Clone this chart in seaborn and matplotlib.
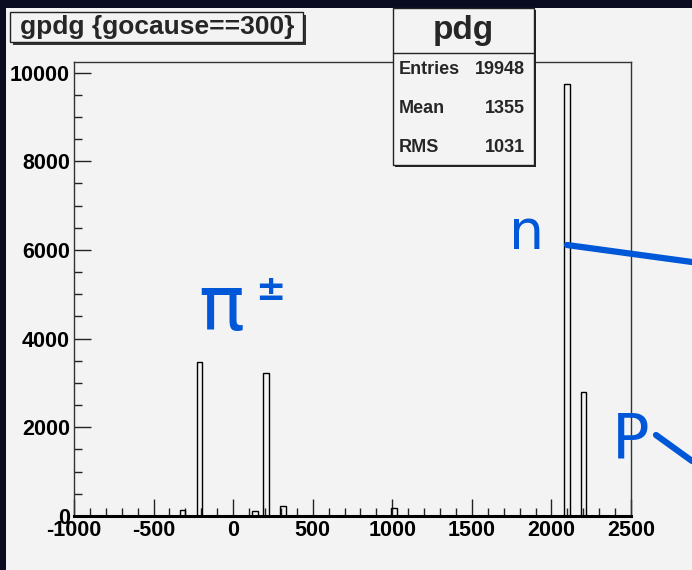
import numpy as np
import pandas as pd
import matplotlib
matplotlib.use("Agg")
import matplotlib.pyplot as plt
import seaborn as sns
from matplotlib.patches import Rectangle
from matplotlib.ticker import MultipleLocator

# ---- data ----
pdg_codes = [-321, -211, 130, 211, 321, 1000, 2112, 2212]
pdg_counts = [128, 3472, 120, 3230, 226, 181, 9750, 2792]
x_min, x_max, n_bins = -1000, 2500, 100
title_text = "gpdg {gocause==300}"
stats_name = "pdg"
stats_labels = ["Entries", "Mean", "RMS"]
stats_values = ["19948", "1355", "1031"]

df = pd.DataFrame({"pdg": pdg_codes, "count": pdg_counts})

sns.set_style("ticks")
plt.rcParams["axes.unicode_minus"] = False

W, H = 692, 570
fig = plt.figure(figsize=(W / 100, H / 100), dpi=100)
fig.patch.set_facecolor("#0a0d22")

def fx(px):
    return px / W

def fy(py):
    return 1 - py / H

# light panel
fig.patches.append(Rectangle((fx(6), 0), 1 - fx(6), fy(8), transform=fig.transFigure,
                             facecolor="#f3f3f3", edgecolor="none", zorder=-5))

ax = fig.add_axes([fx(74), fy(516), fx(631) - fx(74), fy(62) - fy(516)])
ax.set_facecolor("#f3f3f3")
ax.set_zorder(1)

sns.histplot(data=df, x="pdg", weights="count", bins=n_bins, binrange=(x_min, x_max),
             fill=False, element="bars", color="black", linewidth=1.0, ax=ax)

ax.set_xlim(x_min, x_max)
ax.set_ylim(0, 9750 * 1.05)
ax.set_xlabel("")
ax.set_ylabel("")

ax.xaxis.set_major_locator(MultipleLocator(500))
ax.xaxis.set_minor_locator(MultipleLocator(100))
ax.yaxis.set_major_locator(MultipleLocator(2000))
ax.yaxis.set_minor_locator(MultipleLocator(500))
ax.tick_params(axis="both", which="major", direction="in", length=12, width=1, color="#222222")
ax.tick_params(axis="both", which="minor", direction="in", length=6, width=1, color="#222222")
ax.tick_params(axis="x", which="both", top=False)
ax.tick_params(axis="y", which="both", right=False)
ax.tick_params(axis="x", pad=3)
ax.tick_params(axis="y", pad=3)

for lab in ax.get_xticklabels() + ax.get_yticklabels():
    lab.set_fontfamily("Liberation Sans")
    lab.set_fontweight("bold")
    lab.set_fontsize(15.5)
    lab.set_color("black")

for s in ["top", "right", "left"]:
    ax.spines[s].set_visible(True)
    ax.spines[s].set_color("#333333")
    ax.spines[s].set_linewidth(1.0)
ax.spines["bottom"].set_color("black")
ax.spines["bottom"].set_linewidth(2.2)

# title box with shadow
fig.patches.append(Rectangle((fx(13), fy(45)), fx(303) - fx(10), fy(12) - fy(42),
                             transform=fig.transFigure, facecolor="#333333",
                             edgecolor="none", zorder=5))
fig.patches.append(Rectangle((fx(10), fy(42)), fx(303) - fx(10), fy(12) - fy(42),
                             transform=fig.transFigure, facecolor="#f3f3f3",
                             edgecolor="#222222", linewidth=1, zorder=6))
fig.text(fx(157), fy(27), title_text, ha="center", va="center", fontsize=19,
         fontweight="bold", family="Liberation Sans", zorder=7)

# stats box with shadow
bx0, bx1, by0, by1 = 393, 534, 8, 165
fig.patches.append(Rectangle((fx(bx0 + 2), fy(by1 + 2)), fx(bx1) - fx(bx0), fy(by0) - fy(by1),
                             transform=fig.transFigure, facecolor="#222222",
                             edgecolor="none", zorder=5))
fig.patches.append(Rectangle((fx(bx0), fy(by1)), fx(bx1) - fx(bx0), fy(by0) - fy(by1),
                             transform=fig.transFigure, facecolor="#f3f3f3",
                             edgecolor="#222222", linewidth=1, zorder=6))
fig.lines.append(plt.Line2D([fx(bx0), fx(bx1)], [fy(53), fy(53)], transform=fig.transFigure,
                            color="#222222", linewidth=1, zorder=7))
fig.text(fx((bx0 + bx1) / 2), fy(30), stats_name, ha="center", va="center", fontsize=24,
         fontweight="bold", family="Liberation Sans", zorder=7)
for i, (lab, val) in enumerate(zip(stats_labels, stats_values)):
    yy = fy(69 + i * 39.5)
    fig.text(fx(399), yy, lab, ha="left", va="center", fontsize=13,
             fontweight="bold", family="Liberation Sans", zorder=7)
    fig.text(fx(525), yy, val, ha="right", va="center", fontsize=13,
             fontweight="bold", family="Liberation Sans", zorder=7)

# blue annotations
blue = "#0057d8"
fig.text(fx(527), fy(234), "n", ha="center", va="center", fontsize=40, color=blue,
         family="DejaVu Sans", zorder=8)
fig.text(fx(221), fy(309), "π", ha="center", va="center", fontsize=55, color=blue,
         family="DejaVu Sans", zorder=8)
fig.text(fx(270), fy(290), "±", ha="center", va="center", fontsize=26, color=blue,
         family="DejaVu Sans", fontweight="bold", zorder=8)
fig.text(fx(631), fy(440), "P", ha="center", va="center", fontsize=45, color=blue,
         family="DejaVu Sans", zorder=8)
fig.lines.append(plt.Line2D([fx(567), fx(692)], [fy(245), fy(262)], transform=fig.transFigure,
                            color=blue, linewidth=4.5, zorder=8))
fig.lines.append(plt.Line2D([fx(656), fx(692)], [fy(435), fy(461)], transform=fig.transFigure,
                            color=blue, linewidth=4.5, zorder=8))

fig.savefig("out.png", dpi=100, facecolor=fig.get_facecolor())
